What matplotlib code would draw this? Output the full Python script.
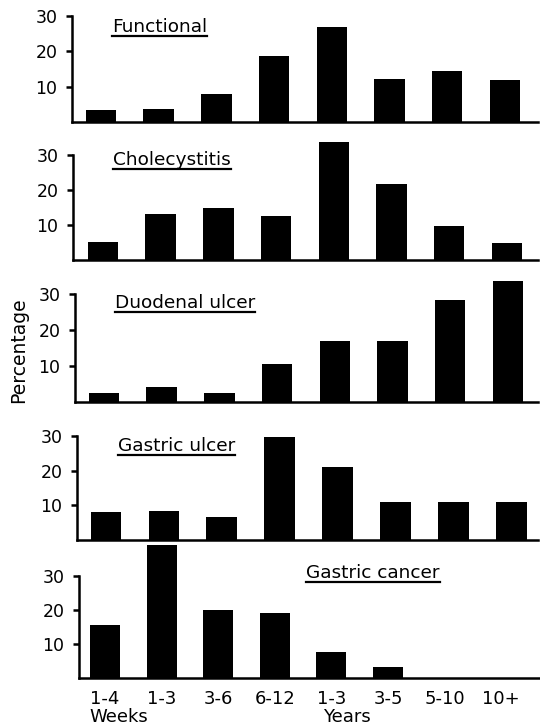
import matplotlib
matplotlib.use("Agg")
import matplotlib.pyplot as plt
from matplotlib.lines import Line2D

W, H = 540, 726

categories = ["1-4", "1-3", "3-6", "6-12", "1-3", "3-5", "5-10", "10+"]
panel_titles = ["Functional", "Cholecystitis", "Duodenal ulcer",
                "Gastric ulcer", "Gastric cancer"]

functional = [3.4, 3.7, 8.0, 18.6, 27.0, 12.3, 14.3, 12.0]
cholecystitis = [5.1, 13.1, 14.9, 12.6, 33.7, 21.7, 9.7, 4.9]
duodenal_ulcer = [2.5, 4.2, 2.5, 10.6, 17.0, 17.0, 28.3, 33.6]
gastric_ulcer = [8.1, 8.4, 6.6, 29.7, 21.0, 11.0, 11.0, 11.0]
gastric_cancer = [15.6, 39.0, 20.0, 19.1, 7.6, 3.2, 0.0, 0.0]

series = [functional, cholecystitis, duodenal_ulcer, gastric_ulcer, gastric_cancer]
yticks = [10, 20, 30]

# panel frames in pixels: axis x, y of the 30 line, right end, baseline,
# first bar centre, bar spacing, title x, title baseline
layout = [
    (72, 16, 538, 122, 101, 57.7, 112, 32),
    (73, 155, 538, 260, 103, 57.7, 113, 165),
    (75, 294, 538, 402, 104, 57.7, 115, 308),
    (77, 436, 538, 540, 106, 57.9, 118, 451),
    (79, 576, 540, 678, 105, 56.6, 306, 578),
]

plt.rcParams["font.family"] = "DejaVu Sans"
fig = plt.figure(figsize=(W / 100, H / 100), dpi=100)

titles = []
for k, (vals, title, lay) in enumerate(zip(series, panel_titles, layout)):
    left, top, right, base, c0, step, tx, ty = lay
    ax = fig.add_axes([left / W, 1 - base / H, (right - left) / W, (base - top) / H])
    xs = list(range(len(vals)))
    ax.bar(xs, vals, width=0.53, color="black", clip_on=False)
    ax.set_xlim((left - c0) / step, (right - c0) / step)
    ax.set_ylim(0, 30)
    ax.set_yticks(yticks)
    ax.set_yticklabels([str(v) for v in yticks], fontsize=12.5)
    ax.tick_params(axis="y", direction="out", length=4, width=1.8, pad=6.5)
    for side in ("top", "right"):
        ax.spines[side].set_visible(False)
    for side in ("left", "bottom"):
        ax.spines[side].set_linewidth(1.8)
    ax.patch.set_alpha(0)
    if k == len(series) - 1:
        ax.set_xticks(xs)
        ax.set_xticklabels(categories, fontsize=13)
        ax.tick_params(axis="x", length=0, pad=9)
    else:
        ax.set_xticks([])
    t = fig.text(tx / W, 1 - ty / H, title, fontsize=13.3, ha="left", va="baseline")
    titles.append((t, ty))

fig.text(119 / W, 1 - 717 / H, "Weeks", fontsize=13, ha="center", va="center")
fig.text(347 / W, 1 - 717 / H, "Years", fontsize=13, ha="center", va="center")
fig.text(19 / W, 1 - 350 / H, "Percentage", fontsize=13.5, rotation=90,
         ha="center", va="center")

# underline each panel title
renderer = fig.canvas.get_renderer()
for t, ty in titles:
    bb = t.get_window_extent(renderer)
    y = 1 - (ty + 4) / H
    fig.add_artist(Line2D([bb.x0 / W, bb.x1 / W], [y, y], color="black",
                          linewidth=1.6, transform=fig.transFigure))

fig.savefig("out.png", dpi=100)
